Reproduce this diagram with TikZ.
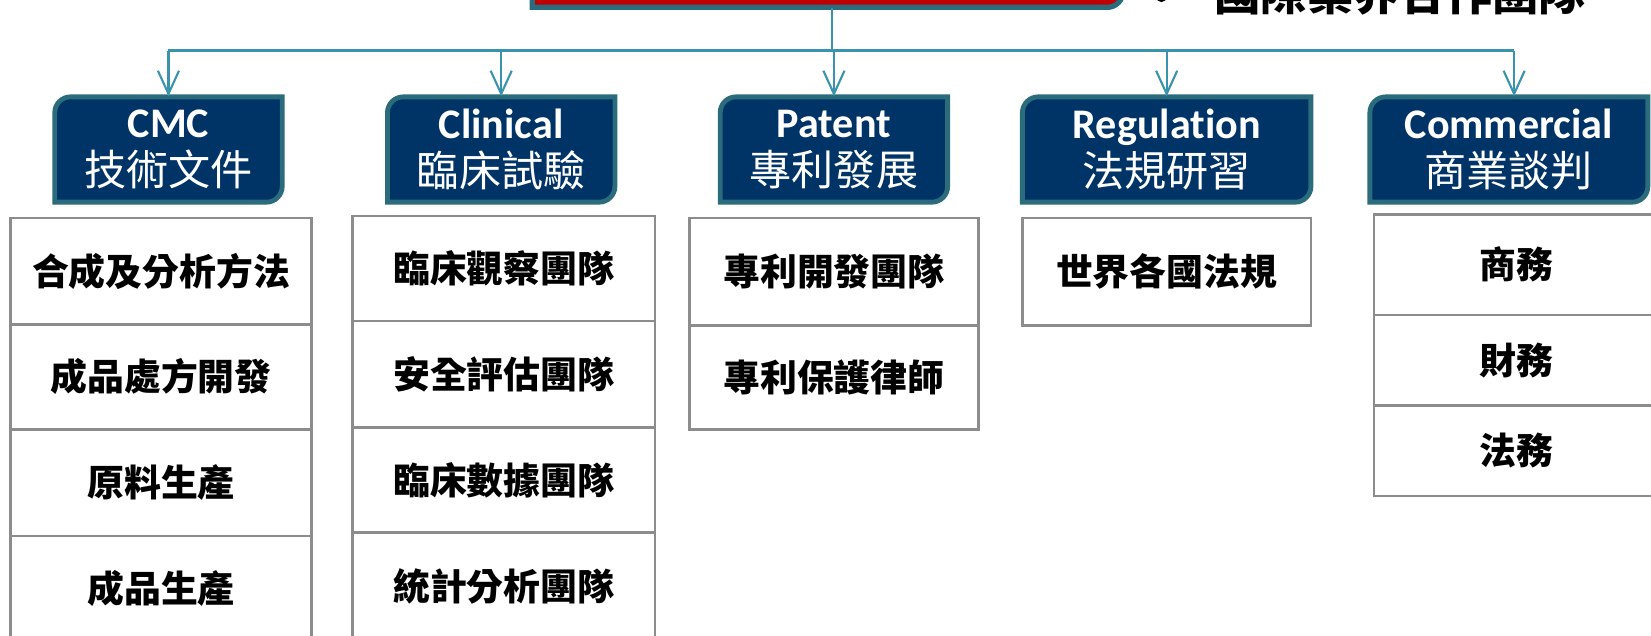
\documentclass[tikz,border=0pt]{standalone}
\usepackage{fontspec}
\newfontfamily\cjk{Noto Sans CJK TC}
\newfontfamily\eng[Ligatures=NoCommon]{Carlito}
\usetikzlibrary{arrows.meta}
\definecolor{navy}{HTML}{003366}
\definecolor{tealb}{HTML}{2A6B7C}
\definecolor{conncol}{HTML}{3A93AD}
\definecolor{grayb}{HTML}{8C8C8C}
\definecolor{redf}{HTML}{C00000}
\newlength\crad \setlength\crad{7.5pt}
% diagonal-rounded shape: style, x1, y1, x2, y2
\newcommand\dbox[5]{%
  \draw[#1] (#2,#5) -- ([yshift=-\crad]#2,#3) arc[start angle=180,end angle=90,radius=\crad]
    -- (#4,#3) -- ([yshift=\crad]#4,#5) arc[start angle=0,end angle=-90,radius=\crad] -- cycle;}
% named rectangle node from corners: style, name, x1, y1, x2, y2, text
\newcommand\rnode[7]{%
  \pgfmathsetmacro\rcx{(#3+#5)/2}\pgfmathsetmacro\rcy{(#4+#6)/2}%
  \pgfmathsetmacro\rw{(#5-#3)*0.5}\pgfmathsetmacro\rh{(#6-#4)*0.5}%
  \node[#1, minimum width=\rw pt, minimum height=\rh pt] (#2) at (\rcx,\rcy) {#7};}
\tikzset{
  hdrshape/.style={draw=tealb, fill=navy, line width=2.3pt},
  topshape/.style={draw=tealb, fill=redf, line width=2.5pt},
  hdr/.style={inner sep=0pt, align=center, text=white, font=\fontsize{20}{22.5}\selectfont},
  subbox/.style={draw=grayb, line width=1.25pt, fill=white, inner sep=0pt,
    font=\cjk\bfseries\fontsize{17.5}{20}\selectfont},
  plain/.style={inner sep=0pt},
  conn/.style={draw=conncol, line width=1pt},
  arr/.style={conn, -{Straight Barb[length=11pt,width=10pt]}},
}
\begin{document}
\begin{tikzpicture}[x=0.5pt,y=-0.5pt]
\useasboundingbox (0,0) rectangle (1568,604);
% top box (cut off)
\dbox{topshape}{505.5}{-40}{1066.5}{7}
\rnode{plain}{top}{505.5}{-40}{1066.5}{7}{}
% top right text
\fill (1103,-3) circle[radius=2.5pt];
\node[anchor=base west, inner sep=0pt, font=\cjk\bfseries\fontsize{22}{26}\selectfont] (intl) at (1153,10) {國際業界合作團隊};
% headers
\dbox{hdrshape}{52}{92}{268}{192}
\rnode{hdr}{cmc}{52}{92}{268}{192}{{\eng\bfseries CMC}\\{\cjk 技術文件}}
\dbox{hdrshape}{368}{92}{584}{192}
\rnode{hdr}{cli}{368}{92}{584}{192}{{\eng\bfseries Clinical}\\{\cjk 臨床試驗}}
\dbox{hdrshape}{684}{92}{900}{192}
\rnode{hdr}{pat}{684}{92}{900}{192}{{\eng\bfseries Patent}\\{\cjk 專利發展}}
\dbox{hdrshape}{971}{92}{1245}{192}
\rnode{hdr}{reg}{971}{92}{1245}{192}{{\eng\bfseries Regulation}\\{\cjk 法規研習}}
\dbox{hdrshape}{1301}{92}{1565}{192}
\rnode{hdr}{com}{1301}{92}{1565}{192}{{\eng\bfseries Commercial}\\{\cjk 商業談判}}
% connectors
\coordinate (hub) at (790,48);
\coordinate (comin) at ([xshift=2.5pt]com.north);
\draw[conn] (hub |- top.south) -- (hub);
\draw[conn] (cmc.north |- hub) -- (comin |- hub);
\draw[arr] (cmc.north |- hub) -- (cmc.north);
\draw[arr] (cli.north |- hub) -- (cli.north);
\draw[arr] (pat.north |- hub) -- (pat.north);
\draw[arr] (reg.north |- hub) -- (reg.north);
\draw[arr] (comin |- hub) -- (comin);
% CMC items
\rnode{subbox}{c1}{10}{207}{296}{308}{合成及分析方法}
\rnode{subbox}{c2}{10}{308}{296}{408}{成品處方開發}
\rnode{subbox}{c3}{10}{408}{296}{509}{原料生產}
\rnode{subbox}{c4}{10}{509}{296}{609}{成品生產}
% Clinical items
\rnode{subbox}{k1}{335}{205}{622}{305}{臨床觀察團隊}
\rnode{subbox}{k2}{335}{305}{622}{406}{安全評估團隊}
\rnode{subbox}{k3}{335}{406}{622}{506}{臨床數據團隊}
\rnode{subbox}{k4}{335}{506}{622}{607}{統計分析團隊}
% Patent items
\rnode{subbox}{p1}{655}{207}{929}{309}{專利開發團隊}
\rnode{subbox}{p2}{655}{309}{929}{408}{專利保護律師}
% Regulation items
\rnode{subbox}{r1}{971}{207}{1245}{309}{世界各國法規}
% Commercial items
\rnode{subbox}{m1}{1305}{204}{1575}{299}{商務}
\rnode{subbox}{m2}{1305}{299}{1575}{385}{財務}
\rnode{subbox}{m3}{1305}{385}{1575}{471}{法務}
\end{tikzpicture}
\end{document}
